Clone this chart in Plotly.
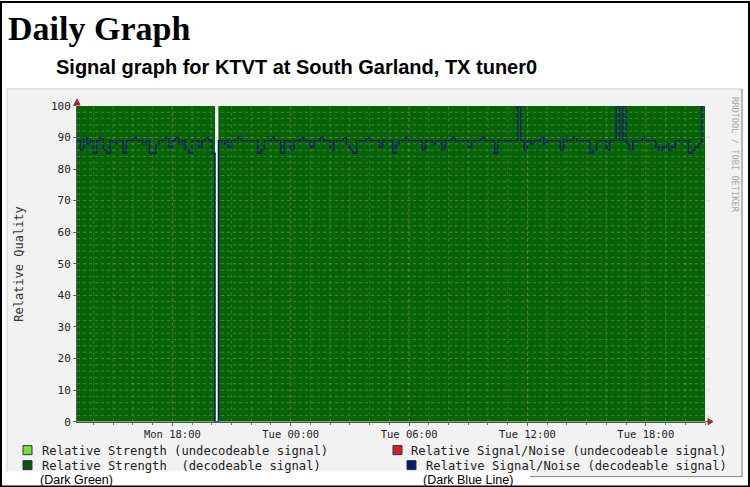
import plotly.graph_objects as go
import pandas as pd

# ---------------- data ----------------
start_time = "2013-01-07 13:10"   # Monday
end_time = "2013-01-08 21:00"     # Tuesday
snr_values = [
    89, 86, 90, 88, 89, 85, 89, 90, 86, 85,
    89, 88, 89, 89, 85, 89, 89, 90, 89, 89,
    88, 89, 85, 85, 88, 89, 89, 90, 87, 89,
    90, 88, 89, 86, 85, 89, 89, 87, 89, 90,
    89, 85, 0, 89, 88, 89, 87, 89, 89, 90,
    89, 89, 89, 89, 89, 85, 86, 89, 89, 90,
    89, 89, 85, 89, 89, 86, 89, 89, 90, 89,
    89, 87, 89, 89, 90, 89, 89, 86, 89, 89,
    89, 90, 88, 86, 85, 89, 89, 89, 90, 89,
    89, 89, 87, 89, 89, 89, 85, 88, 89, 89,
    90, 89, 89, 89, 89, 86, 89, 89, 88, 89,
    89, 86, 89, 89, 90, 89, 89, 89, 89, 87,
    89, 89, 89, 90, 89, 89, 89, 85, 89, 89,
    89, 89, 89, 89, 100, 89, 86, 89, 88, 89,
    89, 90, 88, 89, 89, 89, 89, 86, 90, 89,
    89, 90, 89, 89, 89, 89, 85, 86, 89, 89,
    89, 86, 89, 89, 100, 89, 100, 88, 86, 89,
    89, 89, 90, 89, 89, 89, 87, 86, 87, 88,
    86, 87, 89, 89, 89, 89, 85, 86, 87, 88,
    100, 100,
]
snr_times = pd.date_range(start_time, periods=len(snr_values), freq="10min")

strength_times = ["2013-01-07 13:10", "2013-01-07 20:10", "2013-01-07 20:20", "2013-01-08 21:00"]
strength_values = [100, 0, 100, 100]

tick_times = ["2013-01-07 18:00", "2013-01-08 00:00", "2013-01-08 06:00",
              "2013-01-08 12:00", "2013-01-08 18:00"]
tick_labels = ["Mon 18:00", "Tue 00:00", "Tue 06:00", "Tue 12:00", "Tue 18:00"]
y_ticks = [0, 10, 20, 30, 40, 50, 60, 70, 80, 90, 100]

legend_labels = ["Relative Strength (undecodeable signal)",
                 "Relative Strength\u00a0\u00a0(decodeable signal)",
                 "Relative Signal/Noise (undecodeable signal)",
                 "Relative Signal/Noise (decodeable signal)"]
legend_colors = ["#7fdc3c", "#0b560b", "#d42222", "#0a1670"]

# ---------------- geometry helpers ----------------
W, H = 750, 487
H_FIG = 500          # taller canvas, compensates the vertical squeeze seen in the capture
REF_H = 487.4
def px(x): return x / W
def py(y): return 1 - y / REF_H

PL, PR, PT, PB = 77, 705, 105, 421
MONO = "DejaVu Sans Mono"

fig = go.Figure()
fig.add_trace(go.Scatter(x=strength_times, y=strength_values, mode="lines",
                         line=dict(width=0, shape="hv", color="#066306"),
                         fill="tozeroy", fillcolor="#066306", hoverinfo="skip"))
fig.add_trace(go.Scatter(x=snr_times, y=snr_values, mode="lines",
                         line=dict(width=1.4, shape="hv", color="#0b1d66")))

shapes = []
# page background pieces
shapes.append(dict(type="rect", xref="paper", yref="paper", x0=px(7), x1=px(742), y0=py(476), y1=py(88),
                   fillcolor="#f2f2f2", line=dict(color="#cfcfcf", width=1), layer="below"))
shapes.append(dict(type="line", xref="paper", yref="paper", x0=px(742), x1=px(742), y0=py(476), y1=py(88),
                   line=dict(color="#8a8a8a", width=1), layer="below"))
shapes.append(dict(type="line", xref="paper", yref="paper", x0=px(530), x1=px(742), y0=py(476), y1=py(476),
                   line=dict(color="#8a8a8a", width=1), layer="below"))
shapes.append(dict(type="rect", xref="paper", yref="paper", x0=px(2), x1=px(530), y0=py(485), y1=py(471),
                   fillcolor="#ffffff", line=dict(width=0), layer="below"))
shapes.append(dict(type="rect", xref="paper", yref="paper", x0=px(PL), x1=px(PR), y0=py(PB), y1=py(PT),
                   fillcolor="#ffffff", line=dict(width=0), layer="below"))

# grid (drawn over the area, like rrdtool)
hours = pd.date_range("2013-01-07 14:00", "2013-01-08 20:00", freq="1h")
for h in hours:
    major = h.hour % 6 == 0
    shapes.append(dict(type="line", xref="x", yref="y", x0=h, x1=h, y0=0, y1=100,
                       line=dict(color="rgba(255,150,150,0.40)" if major else "rgba(230,230,230,0.20)",
                                 width=1, dash="dot"), layer="above"))
for v in range(2, 100, 2):
    major = v % 10 == 0
    shapes.append(dict(type="line", xref="paper", yref="y", x0=px(PL), x1=px(711), y0=v, y1=v,
                       line=dict(color="rgba(255,150,150,0.40)" if major else "rgba(210,210,210,0.28)",
                                 width=1, dash="dot"), layer="above"))

# axis arrows
shapes.append(dict(type="line", xref="paper", yref="paper", x0=px(PR), x1=px(709), y0=py(PB), y1=py(PB),
                   line=dict(color="#555", width=1)))
shapes.append(dict(type="path", xref="paper", yref="paper",
                   path=f"M {px(708)} {py(418)} L {px(713)} {py(421)} L {px(708)} {py(424)} Z",
                   fillcolor="#a02828", line=dict(color="#a02828", width=1)))
shapes.append(dict(type="path", xref="paper", yref="paper",
                   path=f"M {px(74)} {py(104)} L {px(77)} {py(98)} L {px(80)} {py(104)} Z",
                   fillcolor="#a02828", line=dict(color="#a02828", width=1)))

# legend squares
sq_x = [23, 23, 393, 407]
sq_y = [445, 460, 445, 460]
for xx, yy, c in zip(sq_x, sq_y, legend_colors):
    shapes.append(dict(type="rect", xref="paper", yref="paper", x0=px(xx), x1=px(xx + 9),
                       y0=py(yy + 9), y1=py(yy), fillcolor=c, line=dict(color="#333", width=1)))

# outer border
shapes.append(dict(type="rect", xref="paper", yref="paper", x0=px(1), x1=px(749), y0=py(486), y1=py(1),
                   line=dict(color="#000", width=2), fillcolor="rgba(0,0,0,0)"))

annotations = []
annotations.append(dict(text="<b>Daily Graph</b>", x=px(6), y=py(28), xref="paper", yref="paper",
                        xanchor="left", yanchor="middle", showarrow=False,
                        font=dict(family="Liberation Serif", size=34, color="#000")))
annotations.append(dict(text="<b>Signal graph for KTVT at South Garland, TX tuner0</b>", x=px(54), y=py(66),
                        xref="paper", yref="paper", xanchor="left", yanchor="middle", showarrow=False,
                        font=dict(family="Liberation Sans", size=20, color="#000")))
annotations.append(dict(text="Relative Quality", x=px(19), y=py(263), xref="paper", yref="paper",
                        textangle=-90, xanchor="center", yanchor="middle", showarrow=False,
                        font=dict(family=MONO, size=12, color="#333")))
annotations.append(dict(text="RRDTOOL / TOBI OETIKER", x=px(735), y=py(94), xref="paper", yref="paper",
                        textangle=90, xanchor="center", yanchor="top", showarrow=False,
                        font=dict(family=MONO, size=8.7, color="#aaaaaa")))
tx = [40, 40, 409, 424]
ty = [450, 465, 450, 465]
for xx, yy, t in zip(tx, ty, legend_labels):
    annotations.append(dict(text=t, x=px(xx), y=py(yy), xref="paper", yref="paper",
                            xanchor="left", yanchor="middle", showarrow=False,
                            font=dict(family=MONO, size=12.2, color="#222")))
annotations.append(dict(text="(Dark Green)", x=px(38), y=py(479), xref="paper", yref="paper",
                        xanchor="left", yanchor="middle", showarrow=False,
                        font=dict(family="Liberation Sans", size=12.5, color="#000")))
annotations.append(dict(text="(Dark Blue Line)", x=px(421), y=py(479), xref="paper", yref="paper",
                        xanchor="left", yanchor="middle", showarrow=False,
                        font=dict(family="Liberation Sans", size=12.5, color="#000")))

fig.update_layout(
    width=W, height=H_FIG, margin=dict(l=0, r=0, t=0, b=0),
    paper_bgcolor="#ffffff", plot_bgcolor="#ffffff", showlegend=False,
    xaxis=dict(domain=[px(PL), px(PR)], type="date", range=[start_time, end_time],
               tickvals=tick_times, ticktext=tick_labels, ticks="outside", ticklen=3,
               tickcolor="#666", showgrid=False, zeroline=False, showline=True,
               linecolor="#555", linewidth=1,
               tickfont=dict(family=MONO, size=10.5, color="#222"),
               minor=dict(ticks="outside", ticklen=2, dtick=3600000, tick0="2013-01-07 14:00",
                          tickcolor="#777", showgrid=False)),
    yaxis=dict(domain=[py(PB), py(PT)], range=[0, 100], tickvals=y_ticks,
               ticks="outside", ticklen=3, tickcolor="#666", showgrid=False, zeroline=False,
               showline=True, linecolor="#555", linewidth=1,
               tickfont=dict(family=MONO, size=11, color="#222")),
    shapes=shapes, annotations=annotations,
)
post = ("document.body.style.margin='0';document.body.style.padding='0';"
        "document.body.style.overflow='hidden';"
        "var d=document.getElementById('{plot_id}');d.style.position='absolute';"
        "d.style.left='0px';d.style.top='-4.8px';")
fig.write_html("out.html", post_script=post, config={"displayModeBar": False})
